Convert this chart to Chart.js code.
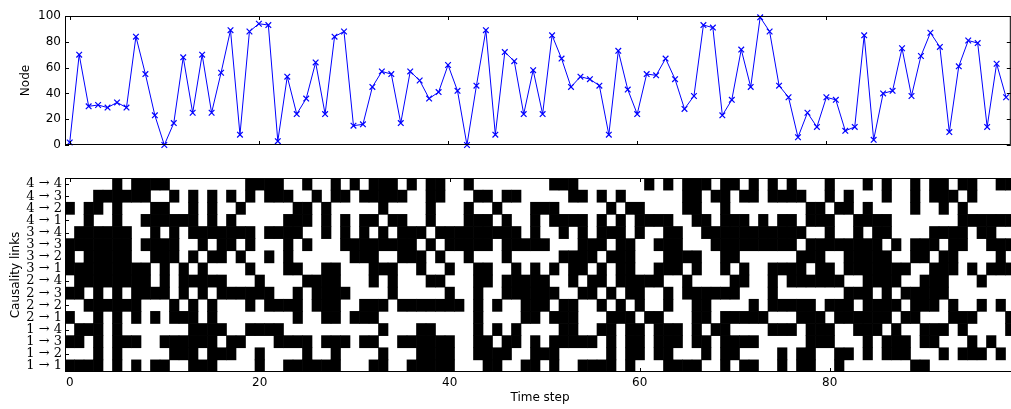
<!DOCTYPE html>
<html lang="en">
<head>
<meta charset="UTF-8">
<title>Node and causality links</title>
<script src="https://cdn.jsdelivr.net/npm/chart.js@4"></script>
<style>
  html, body { margin: 0; padding: 0; background: #fff; overflow: hidden; }
  #wrap { position: relative; width: 1016px; height: 409px; }
  .panel { position: absolute; left: 0; width: 1016px; }
  #topPanel { top: 0; height: 160px; }
  #bottomPanel { top: 160px; height: 249px; }
</style>
</head>
<body>
<div id="wrap">
  <div class="panel" id="topPanel"><canvas id="nodeChart"></canvas></div>
  <div class="panel" id="bottomPanel"><canvas id="linkChart"></canvas></div>
</div>
<script>
// time steps 0..99 (x positions of both panels)
const steps = Array.from({ length: 100 }, (_, i) => i);

const nodeValues = [
  2, 70, 30, 31, 29, 33, 29, 84, 55, 23,
  0, 17, 68, 25, 70, 25, 56, 89, 8, 88,
  94, 93, 3, 53, 24, 36, 64, 24, 84, 88,
  15, 16, 45, 57, 55, 17, 57, 50, 36, 41,
  62, 42, 0, 46, 89, 8, 72, 65, 24, 58,
  24, 85, 67, 45, 53, 51, 46, 8, 73, 43,
  24, 55, 54, 67, 51, 28, 38, 93, 91, 23,
  35, 74, 45, 99, 88, 46, 37, 6, 25, 14,
  37, 35, 11, 14, 85, 4, 40, 42, 75, 38,
  69, 87, 76, 10, 61, 81, 79, 14, 63, 37
];

const xTicks = [0, 20, 40, 60, 80];
const nodeTicks = [0, 20, 40, 60, 80, 100];

// row labels, bottom to top
const linkLabels = [
  '1 → 1', '1 → 2', '1 → 3', '1 → 4',
  '2 → 1', '2 → 2', '2 → 3', '2 → 4',
  '3 → 1', '3 → 2', '3 → 3', '3 → 4',
  '4 → 1', '4 → 2', '4 → 3', '4 → 4'
];

// one string per row (same order as linkLabels), 1 = black cell, one char per time step
const linkRows = [
  '111101010110 011100001001 111110001100 11111000110011 010011110100011110010110 01011001000000011000000000',
  '000101000001 110111001000 010010000100 01111001111001 110000010110110001011000 01011001101011100010111010',
  '110101110011 111101100011 110111011001 11111001101101 011111010110111011011110 00001110001011101100010100',
  '011101000000 011110011110 000000000100 01100001010100 001100110110111010110000 11101110011101001110100001',
  '100101010101 110100000000 100110111000 00000001000011 011100011101100011011111 00011101111110110001110001',
  '001111110001 010100010111 101110011101 11111101010011 101100101010010011000010 11111011101111011101001010',
  '110101011110 101011111100 101111000010 00001001001111 110011010110010111111000 10000000111010111110000000',
  '011111111010 111110001000 011110001010 00110001101111 100101101111100100001100 10111111001111001110001000',
  '111111111010 101000010001 100110001110 01001001100101 010110101100111010010100 11110110111111100111010111',
  '101111100111 010110100101 000000111001 11010010001000 001111011100011110011000 00011100111110011011000010',
  '111111101111 001011010001 010001111111 10101111101111 100011101100111000111111 11101111111101011101100111',
  '011111100101 011111110111 100101010101 11011111111101 001010111010011001111111 11110010010110000111101100',
  '001001001111 110101000001 110101011011 00100011101001 011110101011110011011101 01101110011110000000111111',
  '101101000110 010100100000 110100000100 00100010010001 110000010110000110010000 00001101101000010010100000',
  '000111111001 010101010111 001011011111 00110001101100 000110101000000110110110 11110010100010010111010000',
  '000001011110 000000011110 010010101110 10110010000000 011100000001010111011010 10100010001010010110110011'
];

Chart.defaults.font.family = "'DejaVu Sans', sans-serif";
Chart.defaults.font.size = 12;
Chart.defaults.color = '#000';

// black frame and inward tick marks, matplotlib style
const frameTicks = {
  id: 'frameTicks',
  afterDraw(chart) {
    const { ctx, chartArea: a, scales } = chart;
    ctx.save();
    ctx.strokeStyle = '#000';
    ctx.lineWidth = 1;
    ctx.beginPath();
    scales.x.ticks.forEach(t => {
      const px = Math.round(scales.x.getPixelForValue(t.value)) + 0.5;
      ctx.moveTo(px, a.bottom); ctx.lineTo(px, a.bottom - 4);
      ctx.moveTo(px, a.top); ctx.lineTo(px, a.top + 4);
    });
    scales.y.ticks.forEach(t => {
      const py = Math.round(scales.y.getPixelForValue(t.value)) + 0.5;
      ctx.moveTo(a.left, py); ctx.lineTo(a.left + 4, py);
      ctx.moveTo(a.right, py); ctx.lineTo(a.right - 4, py);
    });
    ctx.stroke();
    ctx.strokeRect(a.left + 0.5, a.top + 0.5, a.right - a.left - 1, a.bottom - a.top - 1);
    ctx.restore();
  }
};

const noGrid = { display: false, drawTicks: false };
const noBorder = { display: false };

new Chart(document.getElementById('nodeChart'), {
  type: 'line',
  data: {
    datasets: [{
      data: steps.map((s, i) => ({ x: s, y: nodeValues[i] })),
      borderColor: '#0000ff',
      borderWidth: 1,
      pointStyle: 'crossRot',
      pointRadius: 4,
      pointBorderColor: '#0000ff',
      pointBackgroundColor: '#0000ff',
      pointBorderWidth: 1.2,
      tension: 0,
      clip: false
    }]
  },
  options: {
    responsive: true,
    maintainAspectRatio: false,
    animation: false,
    devicePixelRatio: 1,
    layout: { padding: { top: 16, right: 1, left: 0, bottom: 0 } },
    plugins: { legend: { display: false }, tooltip: { enabled: false } },
    scales: {
      x: {
        type: 'linear', min: -0.5, max: 99.5,
        grid: noGrid, border: noBorder,
        ticks: { display: false },
        afterBuildTicks: s => { s.ticks = xTicks.map(v => ({ value: v })); },
        afterFit: s => { s.height = 15; }
      },
      y: {
        min: 0, max: 100,
        grid: noGrid, border: noBorder,
        ticks: { padding: 4, autoSkip: false },
        afterBuildTicks: s => { s.ticks = nodeTicks.map(v => ({ value: v })); },
        afterFit: s => { s.width = 65; },
        title: { display: true, text: 'Node', padding: { top: 19, bottom: 0 } }
      }
    }
  },
  plugins: [frameTicks]
});

const linkSets = linkRows.map((row, k) => ({
  data: row.replace(/ /g, '').split('')
    .map((v, c) => v === '1' ? { x: steps[c], y: [k - 0.5, k + 0.5] } : null)
    .filter(Boolean),
  backgroundColor: '#000',
  borderWidth: 0,
  barPercentage: 1,
  categoryPercentage: 1,
  grouped: false
}));

new Chart(document.getElementById('linkChart'), {
  type: 'bar',
  data: { datasets: linkSets },
  options: {
    responsive: true,
    maintainAspectRatio: false,
    animation: false,
    devicePixelRatio: 1,
    layout: { padding: { top: 18, right: 1, left: 0, bottom: 0 } },
    plugins: { legend: { display: false }, tooltip: { enabled: false } },
    scales: {
      x: {
        type: 'linear', min: -0.5, max: 99.5, offset: false,
        grid: noGrid, border: noBorder,
        ticks: { padding: 4, maxRotation: 0, autoSkip: false },
        afterBuildTicks: s => { s.ticks = xTicks.map(v => ({ value: v })); },
        afterFit: s => { s.height = 37; },
        title: { display: true, text: 'Time step', padding: { top: 0, bottom: 4 } }
      },
      y: {
        min: -0.5, max: 15.5,
        grid: noGrid, border: noBorder,
        ticks: {
          padding: 3,
          autoSkip: false,
          font: { family: "'DejaVu Serif', serif", size: 13 },
          callback: v => linkLabels[v]
        },
        afterBuildTicks: s => { s.ticks = linkLabels.map((_, i) => ({ value: i })); },
        afterFit: s => { s.width = 65; },
        title: { display: true, text: 'Causality links', padding: { top: 9, bottom: 0 } }
      }
    }
  },
  plugins: [frameTicks]
});
</script>
</body>
</html>
